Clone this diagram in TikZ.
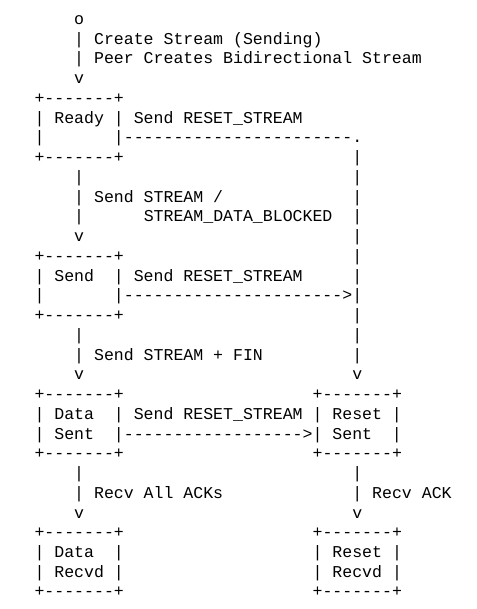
\documentclass[tikz,border=0pt]{standalone}
\usepackage{fontspec}
\setmonofont{Liberation Mono}
\newcommand\asciiline[3]{\node[asciitext] (#1) at (34.5,{24.5+19.74*(#2-1)}) {#3};}
\begin{document}
\begin{tikzpicture}[x=1pt,y=-1pt,
  asciitext/.style={anchor=base west, inner sep=0pt, outer sep=0pt, text=black,
    font=\ttfamily\fontsize{16.55}{19.74}\selectfont}]
\useasboundingbox (0,0) rectangle (476,609);
\asciiline{start}{1}{~~~~o}
\asciiline{create}{2}{~~~~|~Create~Stream~(Sending)}
\asciiline{peer}{3}{~~~~|~Peer~Creates~Bidirectional~Stream}
\asciiline{arrowA}{4}{~~~~v}
\asciiline{readyTop}{5}{+-------+}
\asciiline{ready}{6}{|~Ready~|~Send~RESET\_STREAM}
\asciiline{readyRst}{7}{|~~~~~~~|-----------------------.}
\asciiline{readyBot}{8}{+-------+~~~~~~~~~~~~~~~~~~~~~~~|}
\asciiline{l9}{9}{~~~~|~~~~~~~~~~~~~~~~~~~~~~~~~~~|}
\asciiline{sendStream}{10}{~~~~|~Send~STREAM~/~~~~~~~~~~~~~|}
\asciiline{blocked}{11}{~~~~|~~~~~~STREAM\_DATA\_BLOCKED~~|}
\asciiline{l12}{12}{~~~~v~~~~~~~~~~~~~~~~~~~~~~~~~~~|}
\asciiline{sendTop}{13}{+-------+~~~~~~~~~~~~~~~~~~~~~~~|}
\asciiline{send}{14}{|~Send~~|~Send~RESET\_STREAM~~~~~|}
\asciiline{sendRst}{15}{|~~~~~~~|---------------------->|}
\asciiline{sendBot}{16}{+-------+~~~~~~~~~~~~~~~~~~~~~~~|}
\asciiline{l17}{17}{~~~~|~~~~~~~~~~~~~~~~~~~~~~~~~~~|}
\asciiline{fin}{18}{~~~~|~Send~STREAM~+~FIN~~~~~~~~~|}
\asciiline{l19}{19}{~~~~v~~~~~~~~~~~~~~~~~~~~~~~~~~~v}
\asciiline{dsTop}{20}{+-------+~~~~~~~~~~~~~~~~~~~+-------+}
\asciiline{ds1}{21}{|~Data~~|~Send~RESET\_STREAM~|~Reset~|}
\asciiline{ds2}{22}{|~Sent~~|------------------>|~Sent~~|}
\asciiline{dsBot}{23}{+-------+~~~~~~~~~~~~~~~~~~~+-------+}
\asciiline{l24}{24}{~~~~|~~~~~~~~~~~~~~~~~~~~~~~~~~~|}
\asciiline{acks}{25}{~~~~|~Recv~All~ACKs~~~~~~~~~~~~~|~Recv~ACK}
\asciiline{l26}{26}{~~~~v~~~~~~~~~~~~~~~~~~~~~~~~~~~v}
\asciiline{drTop}{27}{+-------+~~~~~~~~~~~~~~~~~~~+-------+}
\asciiline{dr1}{28}{|~Data~~|~~~~~~~~~~~~~~~~~~~|~Reset~|}
\asciiline{dr2}{29}{|~Recvd~|~~~~~~~~~~~~~~~~~~~|~Recvd~|}
\asciiline{drBot}{30}{+-------+~~~~~~~~~~~~~~~~~~~+-------+}
\end{tikzpicture}
\end{document}
